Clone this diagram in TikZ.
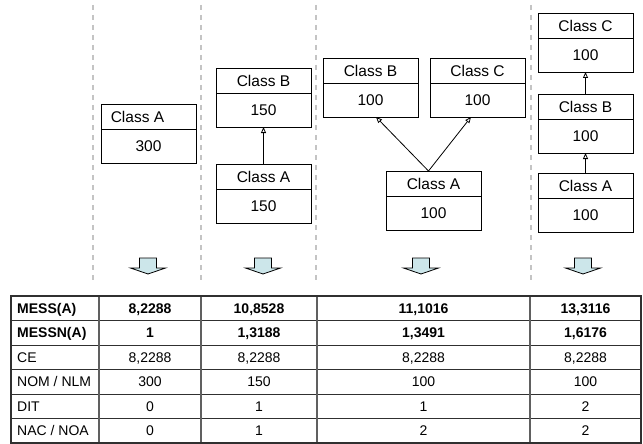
\documentclass[tikz,border=0pt]{standalone}
\usepackage{fontspec}
\setmainfont{Liberation Sans}
\usetikzlibrary{arrows.meta,calc}
\definecolor{dashgray}{HTML}{C4C4C4}
\definecolor{arrowfill}{HTML}{CCE6EA}
\definecolor{gridline}{HTML}{303030}
\definecolor{vline}{HTML}{606060}
\tikzset{
  clsbox/.style={draw=black, line width=0.9pt, minimum width=95pt, minimum height=59pt, inner sep=0pt, outer sep=0pt},
  clstext/.style={font=\fontsize{15.5}{18}\selectfont, inner sep=0pt},
  inherit/.style={draw=black, line width=0.8pt, -{Triangle[open,length=6pt,width=5pt]}},
  sepline/.style={draw=dashgray, line width=1.2pt, dash pattern=on 5pt off 5pt},
  blockarrow/.style={draw=black, line width=0.8pt, fill=arrowfill, line join=miter},
  cell/.style={font=\fontsize{14}{16}\selectfont, inner sep=0pt},
  boldcell/.style={font=\fontsize{14}{16}\selectfont\bfseries, inner sep=0pt},
}
\newcommand\umlclass[6]{%
  \node[clsbox] (#1) at (#2+47.5,#3+29.5) {};
  \draw[line width=0.9pt] ($(#1.north west)+(0,25)$) -- ($(#1.north east)+(0,25)$);
  \node[clstext] (#1-t) at ($(#1.north)+(#6,13)$) {#4};
  \node[clstext] (#1-v) at ($(#1.north)+(0,42)$) {#5};
}
\newcommand\blockarrow[3]{%
  \coordinate (#1) at (#2,#3);
  \draw[blockarrow] (#1) ++(-8.5,0) -- ++(17,0) -- ++(0,10) -- ++(9,0) -- ++(-17.5,6) -- ++(-17.5,-6) -- ++(9,0) -- cycle;
}
\newcommand\tabrow[7]{%
  \node[#2, anchor=base west] (r#1c0) at (17,296+24.5*#1-7.25) {#3};
  \node[#2, anchor=base] (r#1c1) at (150,296+24.5*#1-7.25) {#4};
  \node[#2, anchor=base] (r#1c2) at (259,296+24.5*#1-7.25) {#5};
  \node[#2, anchor=base] (r#1c3) at (423.5,296+24.5*#1-7.25) {#6};
  \node[#2, anchor=base] (r#1c4) at (585.5,296+24.5*#1-7.25) {#7};
}
\begin{document}
\begin{tikzpicture}[x=1pt,y=-1pt]
\useasboundingbox (0,0) rectangle (643,444);
\fill[white] (0,0) rectangle (643,444);
% separators
\foreach \sx in {93,201,316,531} {\draw[sepline] (\sx,5) -- (\sx,284);}
% classes
\umlclass{c1a}{101}{104}{Class A}{300}{-11}
\umlclass{c2b}{216}{68}{Class B}{150}{0}
\umlclass{c2a}{216}{164}{Class A}{150}{0}
\umlclass{c3b}{323}{58}{Class B}{100}{0}
\umlclass{c3c}{430}{58}{Class C}{100}{0}
\umlclass{c3a}{386}{171}{Class A}{100}{0}
\umlclass{c4c}{538}{13}{Class C}{100}{0}
\umlclass{c4b}{538}{94}{Class B}{100}{0}
\umlclass{c4a}{538}{173}{Class A}{100}{0}
% inheritance
\draw[inherit] (c2a.north) -- (c2b.south);
\draw[inherit] ($(c3a.north)+(-5,0)$) -- ($(c3b.south)+(5.5,0)$);
\draw[inherit] ($(c3a.north)+(-5,0)$) -- ($(c3c.south)+(-6.5,0)$);
\draw[inherit] (c4a.north) -- (c4b.south);
\draw[inherit] (c4b.north) -- (c4c.south);
% block arrows
\blockarrow{ba1}{148}{258}
\blockarrow{ba2}{263}{258}
\blockarrow{ba3}{421}{258}
\blockarrow{ba4}{583}{258}
% table grid
\foreach \i in {1,...,5} {\draw[line width=1pt, gridline] (11,296+24.5*\i) -- (641,296+24.5*\i);}
\foreach \vx in {99,201,317,530} {\draw[line width=1.4pt, vline] (\vx,296) -- (\vx,443);}
\draw[line width=1.6pt, gridline] (11,296) rectangle (641,443);
% table text
\tabrow{1}{boldcell}{MESS(A)}{8,2288}{10,8528}{11,1016}{13,3116}
\tabrow{2}{boldcell}{MESSN(A)}{1}{1,3188}{1,3491}{1,6176}
\tabrow{3}{cell}{CE}{8,2288}{8,2288}{8,2288}{8,2288}
\tabrow{4}{cell}{NOM / NLM}{300}{150}{100}{100}
\tabrow{5}{cell}{DIT}{0}{1}{1}{2}
\tabrow{6}{cell}{NAC / NOA}{0}{1}{2}{2}
\end{tikzpicture}
\end{document}
